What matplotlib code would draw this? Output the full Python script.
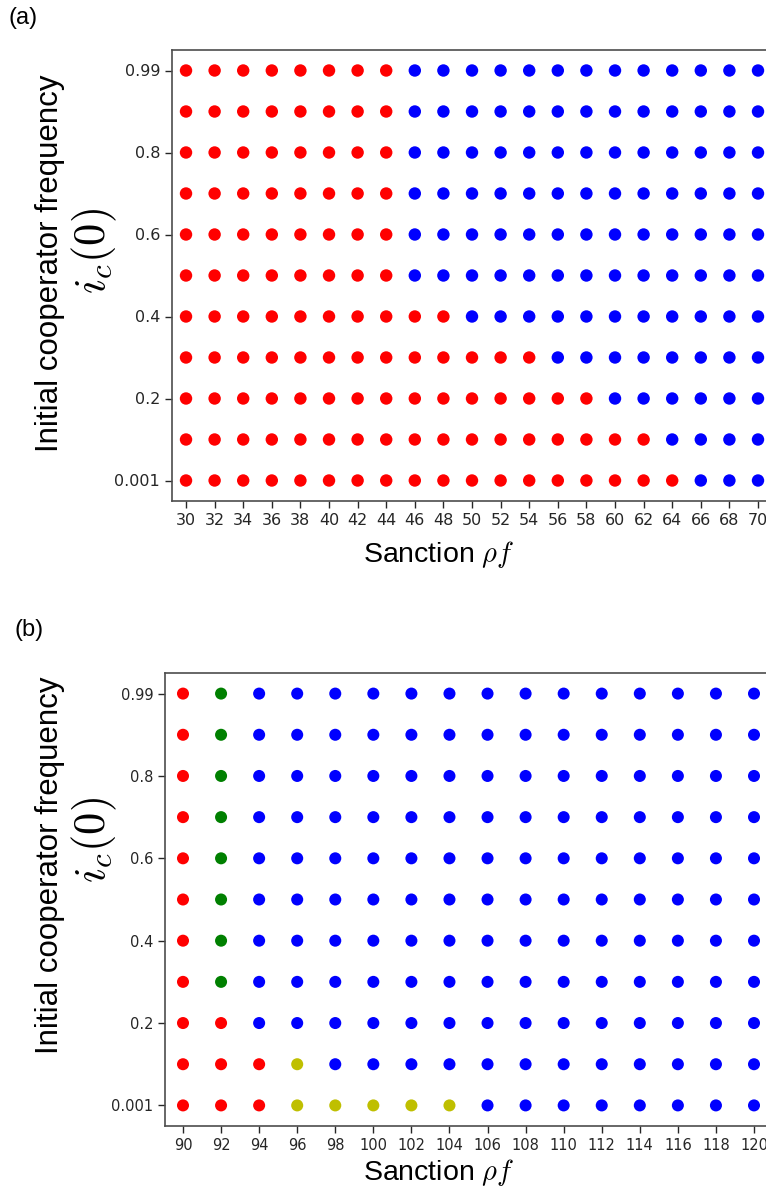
import matplotlib
matplotlib.use("Agg")

import numpy as np
import matplotlib.pyplot as plt

plt.rcParams["font.family"] = "DejaVu Sans"
plt.rcParams["mathtext.fontset"] = "cm"

# -----------------------------
# DATA
# -----------------------------
ic_values = [0.001, 0.1, 0.2, 0.3, 0.4, 0.5, 0.6, 0.7, 0.8, 0.9, 0.99]
ytick_labels = ["0.001", "0.2", "0.4", "0.6", "0.8", "0.99"]

# panel (a): sanction values and the last sanction that still ends red, per row
sanction_a = list(range(30, 71, 2))
last_red_a = [64, 62, 58, 54, 48, 44, 44, 44, 44, 44, 44]

# panel (b): outcome per row (bottom row first), one letter per sanction value
sanction_b = list(range(90, 121, 2))
outcome_b = [
    "RRRYYYYYBBBBBBBB",  # 0.001
    "RRRYBBBBBBBBBBBB",  # 0.1
    "RRBBBBBBBBBBBBBB",  # 0.2
    "RGBBBBBBBBBBBBBB",  # 0.3
    "RGBBBBBBBBBBBBBB",  # 0.4
    "RGBBBBBBBBBBBBBB",  # 0.5
    "RGBBBBBBBBBBBBBB",  # 0.6
    "RGBBBBBBBBBBBBBB",  # 0.7
    "RGBBBBBBBBBBBBBB",  # 0.8
    "RGBBBBBBBBBBBBBB",  # 0.9
    "RGBBBBBBBBBBBBBB",  # 0.99
]

colour_map = {"R": "r", "B": "b", "G": "g", "Y": "y"}

W, H = 766, 1200
fig = plt.figure(figsize=(W / 100, H / 100), dpi=100)


def px_axes(left, top, right, bottom):
    return fig.add_axes([left / W, 1 - bottom / H, (right - left) / W, (bottom - top) / H])


def style_axes(ax, xvals, fs):
    ax.set_ylim(-0.5, len(ic_values) - 0.5)
    ax.set_yticks([0, 2, 4, 6, 8, 10])
    ax.set_yticklabels(ytick_labels)
    ax.set_xticks(xvals)
    ax.set_xticklabels([str(v) for v in xvals])
    ax.tick_params(labelsize=fs, colors="0.15", length=5, width=1)
    for s in ax.spines.values():
        s.set_color("0.3")
        s.set_linewidth(1.2)


# -----------------------------
# PANEL (a)
# -----------------------------
ax1 = px_axes(172, 50, 790, 501)
xs, ys, cs = [], [], []
for row, last in enumerate(last_red_a):
    for s in sanction_a:
        xs.append(s)
        ys.append(row)
        cs.append("r" if s <= last else "b")
ax1.scatter(xs, ys, c=cs, s=80, linewidths=0, zorder=3)
ax1.set_xlim(29.02, 70 + (790 - 758) / 28.6 * 2)
style_axes(ax1, sanction_a, 11.5)

fig.text(439 / W, 1 - 555 / H, r"Sanction $\rho f$", family="Liberation Sans",
         fontsize=20.5, ha="center", va="center")
fig.text(50 / W, 1 - 263 / H, "Initial cooperator frequency", family="Liberation Sans",
         fontsize=22.5, rotation=90, ha="center", va="center")
fig.text(94 / W, 1 - 251 / H, r"$i_c(0)$", fontsize=32, rotation=90,
         ha="center", va="center")
fig.text(8 / W, 1 - 18 / H, "(a)", family="Liberation Sans", fontsize=17,
         ha="left", va="center")

# -----------------------------
# PANEL (b)
# -----------------------------
ax2 = px_axes(165, 673, 790, 1126)
xs, ys, cs = [], [], []
for row, codes in enumerate(outcome_b):
    for s, code in zip(sanction_b, codes):
        xs.append(s)
        ys.append(row)
        cs.append(colour_map[code])
ax2.scatter(xs, ys, c=cs, s=75, linewidths=0, zorder=3)
ax2.set_xlim(90 - (183 - 165) / 38.07 * 2, 120 + (790 - 754) / 38.07 * 2)
style_axes(ax2, sanction_b, 10.5)

fig.text(439 / W, 1 - 1172 / H, r"Sanction $\rho f$", family="Liberation Sans",
         fontsize=20.5, ha="center", va="center")
fig.text(50 / W, 1 - 865 / H, "Initial cooperator frequency", family="Liberation Sans",
         fontsize=22.5, rotation=90, ha="center", va="center")
fig.text(94 / W, 1 - 840 / H, r"$i_c(0)$", fontsize=32, rotation=90,
         ha="center", va="center")
fig.text(15 / W, 1 - 630 / H, "(b)", family="Liberation Sans", fontsize=17,
         ha="left", va="center")

fig.savefig("out.png", dpi=100)
plt.close()
